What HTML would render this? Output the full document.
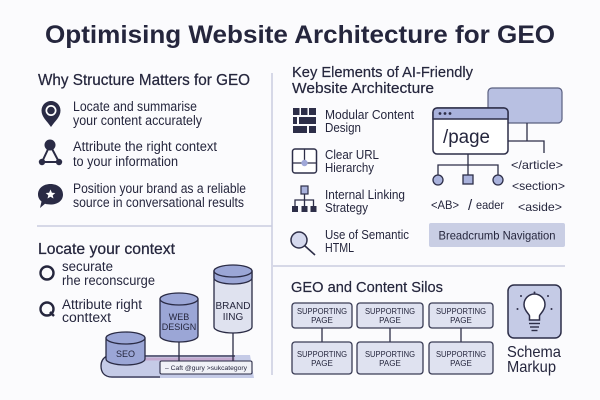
<!DOCTYPE html>
<html><head><meta charset="utf-8"><style>
html,body{margin:0;padding:0;background:#fbfbfd;}
svg{display:block;}
text{font-family:"Liberation Sans",sans-serif;fill:#25263d;}
</style></head><body>
<svg width="600" height="400" viewBox="0 0 600 400" xmlns="http://www.w3.org/2000/svg">
<rect width="600" height="400" fill="#fbfbfd"/>
<!-- Title -->
<text x="45" y="43" font-size="25" font-weight="bold" textLength="510" lengthAdjust="spacingAndGlyphs">Optimising Website Architecture for GEO</text>

<!-- dividers -->
<line x1="272" y1="73" x2="272" y2="375" stroke="#c9cce0" stroke-width="1.5"/>
<line x1="37" y1="226" x2="272" y2="226" stroke="#c9cce0" stroke-width="1.5"/>
<line x1="273" y1="266" x2="565" y2="266" stroke="#c9cce0" stroke-width="1.5"/>

<!-- Left top -->
<text x="38" y="85" font-size="16" stroke="#25263d" stroke-width="0.25" textLength="212" lengthAdjust="spacingAndGlyphs">Why Structure Matters for GEO</text>
<!-- pin -->
<path d="M51 127 C47 121 41.5 117 41.5 110.5 A9.5 9.5 0 0 1 60.5 110.5 C60.5 117 55 121 51 127 Z" fill="#2a2b45"/>
<circle cx="51" cy="110.5" r="5.5" fill="#fff"/>
<circle cx="51" cy="110.5" r="3.8" fill="#2a2b45"/>
<text x="73" y="111" font-size="13.5" textLength="124" lengthAdjust="spacingAndGlyphs">Locate and summarise</text>
<text x="73" y="125" font-size="13.5" textLength="129" lengthAdjust="spacingAndGlyphs">your content accurately</text>
<!-- triangle nodes -->
<path d="M50 145 L42 162 L59 162 Z" fill="none" stroke="#2a2b45" stroke-width="2"/>
<circle cx="50" cy="145" r="5.5" fill="#2a2b45"/>
<circle cx="42" cy="162" r="3.2" fill="#2a2b45"/>
<circle cx="59" cy="162" r="3.2" fill="#2a2b45"/>
<text x="73" y="151" font-size="13.5" textLength="144" lengthAdjust="spacingAndGlyphs">Attribute the right context</text>
<text x="73" y="166" font-size="13.5" textLength="105" lengthAdjust="spacingAndGlyphs">to your information</text>
<!-- speech bubble -->
<path d="M50.5 184 C58 184 63 188.5 63 194.5 C63 200.5 58 204.5 50.5 204.5 C48.5 204.5 46.5 204.3 45 203.8 L40 208 L41.5 201.5 C39.2 199.6 38 197.2 38 194.5 C38 188.5 43 184 50.5 184 Z" fill="#2a2b45"/>
<path d="M50.5 189.5 L51.9 192.7 L55.3 193 L52.7 195.2 L53.5 198.5 L50.5 196.7 L47.5 198.5 L48.3 195.2 L45.7 193 L49.1 192.7 Z" fill="#fff"/>
<text x="73" y="193" font-size="13.5" textLength="173" lengthAdjust="spacingAndGlyphs">Position your brand as a reliable</text>
<text x="73" y="207" font-size="13.5" textLength="171" lengthAdjust="spacingAndGlyphs">source in conversational results</text>

<!-- Left bottom -->
<text x="38" y="254" font-size="16" stroke="#25263d" stroke-width="0.25" textLength="137" lengthAdjust="spacingAndGlyphs">Locate your context</text>
<circle cx="47" cy="273" r="6.5" fill="none" stroke="#25263d" stroke-width="2.4"/>
<text x="62" y="271" font-size="13.5" textLength="51" lengthAdjust="spacingAndGlyphs">securate</text>
<text x="62" y="285" font-size="13.5" textLength="93" lengthAdjust="spacingAndGlyphs">rhe reconscurge</text>
<circle cx="47" cy="309" r="6.5" fill="none" stroke="#25263d" stroke-width="2.4"/>
<line x1="50" y1="312" x2="54" y2="316" stroke="#25263d" stroke-width="2.4"/>
<text x="62" y="309" font-size="13.5" textLength="80" lengthAdjust="spacingAndGlyphs">Attribute right</text>
<text x="62" y="322" font-size="13.5" textLength="49" lengthAdjust="spacingAndGlyphs">conttext</text>

<!-- platform -->
<path d="M107 355 L250 355 L254 378 L112 378 C104 378 101 372 101 366 C101 360 104 357 107 355 Z" fill="#c5cbe7"/>
<path d="M107 356 C103 358 101 361 101 366 C101 372 104 377 112 377 L160 377" fill="none" stroke="#2a2b45" stroke-width="1.3"/>
<line x1="145" y1="356" x2="235" y2="356" stroke="#2a2b45" stroke-width="1.2"/>
<line x1="145" y1="359" x2="235" y2="359" stroke="#c4a9cf" stroke-width="3"/>
<!-- SEO cylinder -->
<path d="M106 338 V359 A19.5 6 0 0 0 145 359 V338 Z" fill="#9ba6d6" stroke="#2a2b45" stroke-width="1.3"/>
<ellipse cx="125.5" cy="338" rx="19.5" ry="6" fill="#9ba6d6" stroke="#2a2b45" stroke-width="1.3"/>
<text x="125.5" y="357" font-size="9" text-anchor="middle" fill="#2d2e48">SEO</text>
<!-- connectors -->
<line x1="179" y1="340" x2="179" y2="362" stroke="#2a2b45" stroke-width="1.3"/>
<line x1="233" y1="330" x2="233" y2="362" stroke="#2a2b45" stroke-width="1.3"/>
<!-- WEB DESIGN -->
<path d="M160 299 V336 A19 6 0 0 0 198 336 V299 Z" fill="#9ba6d6" stroke="#2a2b45" stroke-width="1.3"/>
<ellipse cx="179" cy="299" rx="19" ry="6" fill="#9ba6d6" stroke="#2a2b45" stroke-width="1.3"/>
<text x="179" y="320" font-size="9" text-anchor="middle" fill="#2d2e48">WEB</text>
<text x="179" y="330" font-size="9" text-anchor="middle" fill="#2d2e48">DESIGN</text>
<!-- BRANDING -->
<path d="M214 271 V327 A19 6 0 0 0 252 327 V271 Z" fill="#dfe2ef" stroke="#2a2b45" stroke-width="1.3"/>
<path d="M214 271 V278 A19 6 0 0 0 252 278 V271 Z" fill="#9ba6d6" stroke="#2a2b45" stroke-width="1.3"/>
<ellipse cx="233" cy="271" rx="19" ry="6" fill="#9ba6d6" stroke="#2a2b45" stroke-width="1.3"/>
<text x="233" y="309" font-size="10" text-anchor="middle" fill="#2d2e48">BRAND</text>
<text x="233" y="320" font-size="10" text-anchor="middle" fill="#2d2e48">IING</text>
<!-- label box -->
<rect x="160" y="361" width="92" height="13" rx="1.5" fill="#f0f1f7" stroke="#2a2b45" stroke-width="1.1"/>
<text x="165" y="370" font-size="6.3" textLength="82" lengthAdjust="spacingAndGlyphs" fill="#3a3b55">– Caft @gury &gt;sukcategory</text>

<!-- Right top -->
<text x="292" y="77" font-size="15" stroke="#25263d" stroke-width="0.2" textLength="181" lengthAdjust="spacingAndGlyphs">Key Elements of AI-Friendly</text>
<text x="292" y="93" font-size="15" stroke="#25263d" stroke-width="0.2" textLength="142" lengthAdjust="spacingAndGlyphs">Website Architecture</text>
<!-- modular icon -->
<g fill="#2d2e48">
<rect x="293" y="108" width="6.5" height="7"/><rect x="301" y="108" width="6.5" height="7"/><rect x="309" y="108" width="7" height="7"/>
<rect x="293" y="117" width="4" height="7"/><rect x="299" y="117" width="17" height="7"/>
<rect x="293" y="126" width="14" height="7"/><rect x="309" y="126" width="7" height="7"/>
</g>
<text x="325" y="119" font-size="12.5" textLength="89" lengthAdjust="spacingAndGlyphs">Modular Content</text>
<text x="325" y="132" font-size="12.5" textLength="36" lengthAdjust="spacingAndGlyphs">Design</text>
<!-- URL icon -->
<rect x="292.5" y="149" width="24" height="24" rx="2.5" fill="#fff" stroke="#2d2e48" stroke-width="1.5"/>
<line x1="304.5" y1="149" x2="304.5" y2="163" stroke="#2d2e48" stroke-width="1.3"/>
<line x1="292.5" y1="163" x2="316.5" y2="163" stroke="#2d2e48" stroke-width="1.3"/>
<circle cx="304.5" cy="163" r="3.2" fill="#a0a8d8"/>
<text x="325" y="159" font-size="12.5" textLength="54" lengthAdjust="spacingAndGlyphs">Clear URL</text>
<text x="325" y="172" font-size="12.5" textLength="49" lengthAdjust="spacingAndGlyphs">Hierarchy</text>
<!-- linking icon -->
<rect x="301" y="186" width="7" height="8" fill="#a9b2dc" stroke="#2d2e48" stroke-width="1.2"/>
<path d="M304.5 194 V200 M295 206 V200 H313.5 V206 M304.5 200 V206" fill="none" stroke="#2d2e48" stroke-width="1.3"/>
<rect x="292" y="206" width="6" height="6" fill="#2d2e48"/><rect x="301.5" y="206" width="6" height="6" fill="#2d2e48"/><rect x="310.5" y="206" width="6" height="6" fill="#2d2e48"/>
<text x="325" y="199" font-size="12.5" textLength="80" lengthAdjust="spacingAndGlyphs">Internal Linking</text>
<text x="325" y="212" font-size="12.5" textLength="43" lengthAdjust="spacingAndGlyphs">Strategy</text>
<!-- magnifier -->
<line x1="305" y1="246" x2="315" y2="255" stroke="#2d2e48" stroke-width="1.6"/>
<circle cx="299" cy="240" r="8" fill="#d5d9ee" stroke="#2d2e48" stroke-width="1.5"/>
<text x="325" y="239" font-size="12.5" textLength="84" lengthAdjust="spacingAndGlyphs">Use of Semantic</text>
<text x="325" y="252" font-size="12.5" textLength="29" lengthAdjust="spacingAndGlyphs">HTML</text>

<!-- browser diagram -->
<rect x="488" y="88" width="74" height="35" rx="4" fill="#b8c0e2" stroke="#5a5f80" stroke-width="1.2"/>
<path d="M527 123 V141 M508 141 H544 V153" fill="none" stroke="#2d2e48" stroke-width="1.3"/>
<rect x="433" y="108" width="75" height="46" rx="4" fill="#fff" stroke="#2d2e48" stroke-width="1.5"/>
<path d="M433 119 V112 A4 4 0 0 1 437 108 H504 A4 4 0 0 1 508 112 V119 Z" fill="#a9b2dc" stroke="#2d2e48" stroke-width="1.5"/>
<circle cx="440" cy="113.5" r="1.4" fill="#2d2e48"/><circle cx="445" cy="113.5" r="1.4" fill="#2d2e48"/><circle cx="450" cy="113.5" r="1.4" fill="#2d2e48"/>
<text x="443" y="143" font-size="19" textLength="47" lengthAdjust="spacingAndGlyphs">/page</text>
<path d="M468 154 V165 M438 175 V165 H498 V175 M468 165 V175" fill="none" stroke="#2d2e48" stroke-width="1.3"/>
<circle cx="438" cy="180" r="5" fill="#a9b2dc" stroke="#2d2e48" stroke-width="1.3"/>
<rect x="463" y="175" width="10" height="9" fill="#a9b2dc" stroke="#2d2e48" stroke-width="1.3"/>
<circle cx="498" cy="180" r="5" fill="#a9b2dc" stroke="#2d2e48" stroke-width="1.3"/>
<text x="511" y="169" font-size="12" textLength="52" lengthAdjust="spacingAndGlyphs">&lt;/article&gt;</text>
<text x="512" y="190" font-size="12" textLength="53" lengthAdjust="spacingAndGlyphs">&lt;section&gt;</text>
<text x="518" y="211" font-size="12" textLength="44" lengthAdjust="spacingAndGlyphs">&lt;aside&gt;</text>
<text x="431" y="209" font-size="12" textLength="28" lengthAdjust="spacingAndGlyphs">&lt;AB&gt;</text>
<text x="468" y="210" font-size="15" textLength="7">/</text>
<text x="476" y="209" font-size="12" textLength="28" lengthAdjust="spacingAndGlyphs">eader</text>
<rect x="429" y="223" width="136" height="24" rx="2" fill="#c9cee4"/>
<text x="497" y="239.5" font-size="12" text-anchor="middle" textLength="117" lengthAdjust="spacingAndGlyphs" fill="#2d2f45">Breadcrumb Navigation</text>

<!-- Right bottom -->
<text x="291" y="292" font-size="15" stroke="#25263d" stroke-width="0.2" textLength="152" lengthAdjust="spacingAndGlyphs">GEO and Content Silos</text>
<g stroke="#2d2e48" stroke-width="1.3">
<line x1="322" y1="328" x2="322" y2="342"/><line x1="390" y1="328" x2="390" y2="342"/><line x1="461" y1="328" x2="461" y2="342"/>
</g>
<g fill="#dfe2f0" stroke="#3a3c55" stroke-width="1.3">
<rect x="292" y="303" width="60" height="25" rx="3"/><rect x="357" y="303" width="66" height="25" rx="3"/><rect x="429" y="303" width="64" height="25" rx="3"/>
<rect x="292" y="342" width="60" height="32" rx="3"/><rect x="357" y="342" width="66" height="32" rx="3"/><rect x="429" y="342" width="64" height="32" rx="3"/>
</g>
<g font-size="8" text-anchor="middle">
<text x="322" y="314" fill="#3a3c55" textLength="50" lengthAdjust="spacingAndGlyphs">SUPPORTING</text><text x="322" y="323" fill="#3a3c55">PAGE</text>
<text x="390" y="314" fill="#3a3c55" textLength="50" lengthAdjust="spacingAndGlyphs">SUPPORTING</text><text x="390" y="323" fill="#3a3c55">PAGE</text>
<text x="461" y="314" fill="#3a3c55" textLength="50" lengthAdjust="spacingAndGlyphs">SUPPORTING</text><text x="461" y="323" fill="#3a3c55">PAGE</text>
<text x="322" y="357" fill="#3a3c55" textLength="50" lengthAdjust="spacingAndGlyphs">SUPPORTING</text><text x="322" y="366" fill="#3a3c55">PAGE</text>
<text x="390" y="357" fill="#3a3c55" textLength="50" lengthAdjust="spacingAndGlyphs">SUPPORTING</text><text x="390" y="366" fill="#3a3c55">PAGE</text>
<text x="461" y="357" fill="#3a3c55" textLength="50" lengthAdjust="spacingAndGlyphs">SUPPORTING</text><text x="461" y="366" fill="#3a3c55">PAGE</text>
</g>
<!-- schema -->
<rect x="508" y="285" width="53" height="53" rx="6" fill="#c5cbe6" stroke="#2d2e48" stroke-width="1.5"/>
<path d="M529.5 320 V316 C529.5 314 524 311 524 304.5 A10.5 10.5 0 0 1 545 304.5 C545 311 539.5 314 539.5 316 V320 Z" fill="#fff" stroke="#2d2e48" stroke-width="1.5"/>
<g stroke="#2d2e48" stroke-width="1.4">
<line x1="529" y1="323.5" x2="540" y2="323.5"/><line x1="530" y1="327" x2="539" y2="327"/><line x1="531.5" y1="330.5" x2="537.5" y2="330.5"/>
</g>
<g fill="#2d2e48">
<circle cx="534.5" cy="292.5" r="1"/><circle cx="521" cy="296" r="1"/><circle cx="548" cy="296" r="1"/><circle cx="517.5" cy="309" r="1"/><circle cx="551.5" cy="309" r="1"/>
</g>
<text x="507" y="357" font-size="16" textLength="54" lengthAdjust="spacingAndGlyphs">Schema</text>
<text x="507" y="372" font-size="16" textLength="49" lengthAdjust="spacingAndGlyphs">Markup</text>
</svg>
</body></html>
